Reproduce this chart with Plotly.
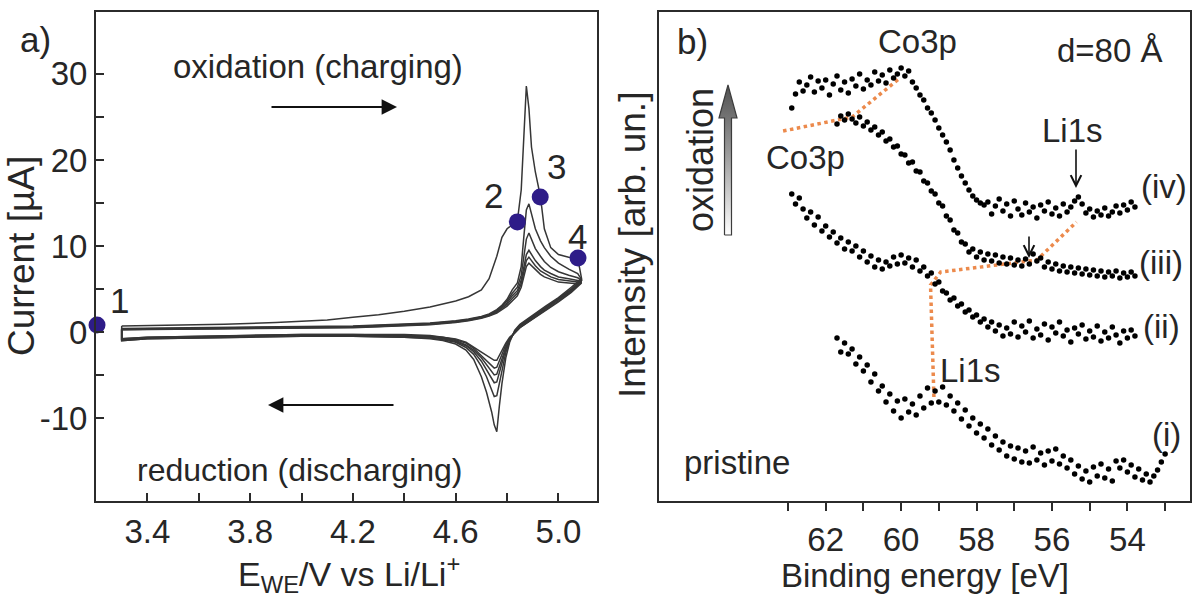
import plotly.graph_objects as go

# ---------------- Panel a: cyclic voltammetry ----------------
EA = [3.30, 3.50, 3.70, 3.90, 4.10, 4.20, 4.30, 4.40, 4.50, 4.60, 4.65, 4.70, 4.73, 4.76, 4.78,
      4.80, 4.82, 4.84, 4.855, 4.865, 4.875, 4.885, 4.895, 4.91, 4.93, 4.945, 4.97, 5.00, 5.04, 5.075]
EC = [5.09, 5.05, 5.00, 4.95, 4.90, 4.87, 4.85, 4.83, 4.81, 4.795, 4.78, 4.77, 4.76, 4.75, 4.74,
      4.72, 4.70, 4.67, 4.64, 4.60, 4.55, 4.50, 4.40, 4.20, 4.00, 3.80, 3.60, 3.40, 3.30]

anodic_1 = [0.7, 0.8, 0.9, 1.1, 1.4, 1.7, 2.0, 2.4, 2.9, 3.6, 4.1, 4.9, 6.2, 8.8, 11.0,
            12.0, 12.4, 12.9, 16.5, 23.0, 28.6, 26.0, 21.5, 18.6, 15.7, 12.0, 9.8, 9.0, 8.7, 8.6]
anodic_2 = [0.4, 0.45, 0.5, 0.55, 0.65, 0.7, 0.8, 0.9, 1.05, 1.3, 1.5, 1.8, 2.1, 2.6, 3.1,
            3.8, 4.9, 5.7, 7.6, 11.0, 14.2, 14.9, 13.6, 12.0, 10.6, 9.8, 8.8, 8.0, 7.3, 6.8]
anodic_3 = [0.35, 0.4, 0.45, 0.5, 0.6, 0.65, 0.75, 0.85, 1.0, 1.25, 1.45, 1.75, 2.0, 2.5, 3.0,
            3.6, 4.5, 5.2, 6.6, 8.8, 10.8, 11.5, 10.8, 9.7, 8.8, 8.2, 7.5, 7.0, 6.6, 6.3]
anodic_4 = [0.3, 0.35, 0.4, 0.45, 0.55, 0.6, 0.7, 0.8, 0.95, 1.2, 1.4, 1.7, 1.95, 2.4, 2.9,
            3.4, 4.2, 4.8, 6.0, 7.6, 9.0, 9.5, 9.0, 8.3, 7.6, 7.2, 6.8, 6.4, 6.2, 6.0]
anodic_5 = [0.3, 0.35, 0.4, 0.45, 0.5, 0.55, 0.65, 0.75, 0.9, 1.15, 1.35, 1.65, 1.9, 2.3, 2.8,
            3.2, 3.9, 4.5, 5.6, 7.0, 8.3, 8.7, 8.3, 7.7, 7.1, 6.8, 6.4, 6.1, 5.9, 5.8]
anodic_6 = [0.25, 0.3, 0.35, 0.4, 0.45, 0.5, 0.6, 0.7, 0.85, 1.1, 1.3, 1.6, 1.85, 2.2, 2.6,
            3.0, 3.6, 4.2, 5.2, 6.5, 7.6, 8.0, 7.7, 7.2, 6.7, 6.4, 6.1, 5.8, 5.7, 5.6]

cathodic_1 = [6.2, 5.2, 4.0, 3.0, 2.0, 1.4, 0.9, 0.2, -1.2, -3.0, -6.0, -8.6, -11.6, -10.8, -9.3,
              -7.0, -5.2, -3.2, -2.1, -1.4, -1.0, -0.8, -0.6, -0.5, -0.5, -0.6, -0.7, -0.8, -1.0]
cathodic_2 = [6.1, 5.0, 3.9, 2.9, 1.9, 1.3, 0.8, 0.1, -1.0, -2.4, -4.4, -6.0, -7.4, -7.5, -6.7,
              -5.2, -4.0, -2.6, -1.8, -1.2, -0.9, -0.7, -0.6, -0.5, -0.5, -0.6, -0.7, -0.8, -1.0]
cathodic_3 = [6.0, 4.9, 3.8, 2.8, 1.8, 1.2, 0.7, 0.0, -0.9, -2.0, -3.6, -4.8, -5.8, -5.9, -5.4,
              -4.3, -3.4, -2.3, -1.6, -1.1, -0.8, -0.6, -0.5, -0.4, -0.4, -0.5, -0.6, -0.7, -0.9]
cathodic_4 = [5.9, 4.8, 3.7, 2.7, 1.7, 1.1, 0.6, -0.1, -0.8, -1.8, -3.1, -4.1, -4.9, -5.0, -4.6,
              -3.8, -3.0, -2.1, -1.5, -1.0, -0.7, -0.5, -0.4, -0.4, -0.4, -0.5, -0.6, -0.7, -0.9]
cathodic_5 = [5.8, 4.7, 3.6, 2.6, 1.6, 1.0, 0.5, -0.1, -0.7, -1.5, -2.6, -3.5, -4.1, -4.2, -3.9,
              -3.3, -2.7, -1.9, -1.3, -0.9, -0.6, -0.5, -0.4, -0.3, -0.3, -0.4, -0.5, -0.6, -0.8]
cathodic_6 = [5.7, 4.6, 3.5, 2.5, 1.5, 0.9, 0.5, -0.1, -0.6, -1.3, -2.1, -2.8, -3.3, -3.3, -3.1,
              -2.7, -2.3, -1.7, -1.2, -0.8, -0.6, -0.4, -0.3, -0.3, -0.3, -0.4, -0.5, -0.6, -0.8]

point_labels = ["1", "2", "3", "4"]
point_E = [3.204, 4.840, 4.929, 5.076]
point_I = [0.8, 12.8, 15.7, 8.6]

ax_a_ticks = [3.4, 3.8, 4.2, 4.6, 5.0]
ax_a_ticktext = ["3.4", "3.8", "4.2", "4.6", "5.0"]
ax_a_minor = [3.6, 4.0, 4.4, 4.8]
ay_a_ticks = [-10, 0, 10, 20, 30]
ay_a_minor = [-5, 5, 15, 25]

# ---------------- Panel b: XPS spectra ----------------
BE_A = [62.9, 62.8, 62.7, 62.6, 62.5, 62.4, 62.3, 62.2, 62.1, 62.0,
        61.9, 61.8, 61.7, 61.6, 61.5, 61.4, 61.3, 61.2, 61.1, 61.0,
        60.9, 60.8, 60.7, 60.6, 60.5, 60.4, 60.3, 60.2, 60.1, 60.0,
        59.9, 59.8, 59.7, 59.6, 59.5, 59.4, 59.3, 59.2, 59.1, 59.0,
        58.9, 58.8, 58.7, 58.6, 58.5, 58.4, 58.3, 58.2, 58.1, 58.0,
        57.9, 57.8, 57.7, 57.6, 57.5, 57.4, 57.3, 57.2, 57.1, 57.0,
        56.9, 56.8, 56.7, 56.6, 56.5, 56.4, 56.3, 56.2, 56.1, 56.0,
        55.9, 55.8, 55.7, 55.6, 55.5, 55.4, 55.3, 55.2, 55.1, 55.0,
        54.9, 54.8, 54.7, 54.6, 54.5, 54.4, 54.3, 54.2, 54.1, 54.0,
        53.9, 53.8]
BE_B = BE_A[12:]
BE_C = BE_A[12:] + [53.7, 53.6, 53.5, 53.4, 53.3, 53.2, 53.1, 53.0]

spec_iv = [39.2, 40.6, 41.8, 40.9, 41.5, 42.3, 40.8, 41.9, 41.2, 42.0,
           40.5, 41.6, 42.4, 41.0, 41.8, 40.7, 42.1, 41.4, 42.6, 41.1,
           42.0, 41.5, 42.8, 41.9, 42.5, 41.7, 43.0, 42.2, 42.6, 43.2,
           42.4, 42.9, 41.8, 41.2, 40.5, 40.0, 39.2, 38.7, 38.0, 37.2,
           36.5, 35.8, 35.0, 34.0, 33.2, 32.4, 31.7, 31.0, 30.4, 30.0,
           29.7, 29.5, 29.8, 28.6, 29.4, 30.1, 28.9, 29.6, 28.4, 29.9,
           29.1, 28.5, 29.7, 28.8, 29.3, 28.2, 29.5, 28.9, 29.8, 28.6,
           29.2, 28.4, 29.6, 28.8, 29.3, 29.9, 30.3, 29.6, 28.7, 29.1,
           28.3, 28.9, 28.5, 29.2, 28.4, 28.8, 29.4, 28.7, 29.5, 29.0,
           29.8, 29.3]
spec_iii = [37.6, 38.4, 38.0, 38.6, 38.1, 37.7, 38.3, 37.4, 37.8, 37.0,
            37.3, 36.5, 36.8, 35.9, 36.1, 35.3, 35.4, 34.6, 34.5, 33.7,
            33.8, 32.9, 32.8, 31.9, 31.7, 30.9, 30.6, 29.7, 29.4, 28.4,
            28.0, 27.0, 26.7, 25.8, 25.6, 24.8, 25.1, 24.3, 24.8, 24.0,
            24.6, 23.9, 24.5, 23.7, 24.3, 23.6, 24.2, 23.5, 24.0, 23.4,
            24.1, 23.6, 24.6, 23.9, 24.2, 23.3, 23.8, 23.1, 23.6, 22.9,
            23.4, 22.8, 23.3, 22.7, 23.2, 22.6, 23.1, 22.5, 23.0, 22.4,
            22.9, 22.3, 22.8, 22.4, 22.9, 22.2, 22.7, 22.3, 22.8, 22.4]
spec_ii = [30.6, 29.6, 30.2, 29.1, 28.2, 28.8, 27.5, 28.3, 26.9, 27.4,
           26.3, 26.8, 25.7, 26.2, 25.1, 25.8, 24.9, 25.4, 24.3, 24.9,
           23.8, 24.4, 23.3, 24.0, 23.1, 23.8, 23.4, 24.3, 23.6, 24.5,
           23.7, 24.2, 23.3, 24.0, 22.9, 23.3, 22.4, 22.7, 21.6, 21.8,
           20.9, 20.7, 20.0, 20.2, 19.4, 19.6, 18.8, 19.0, 18.3, 18.5,
           17.8, 18.1, 17.3, 17.8, 16.9, 17.5, 16.4, 17.2, 16.6, 17.8,
           16.3, 17.4, 16.8, 17.9, 16.2, 17.1, 16.5, 17.6, 16.0, 17.3,
           16.7, 17.8, 16.4, 17.0, 15.8, 17.2, 16.6, 17.5, 16.1, 16.9,
           16.3, 17.4, 15.9, 16.8, 16.2, 17.3, 16.5, 15.7, 16.9, 16.2,
           17.0, 16.4]
spec_i = [16.2, 14.8, 15.7, 14.6, 15.1, 13.6, 14.3, 12.9, 13.5, 11.8,
          12.6, 10.9, 11.4, 9.8, 10.6, 8.9, 9.9, 8.2, 10.1, 8.8,
          9.6, 8.5, 10.4, 9.2, 11.2, 9.7, 10.9, 9.8, 11.3, 9.5,
          10.4, 8.9, 9.7, 8.1, 9.0, 7.4, 8.2, 6.7, 7.6, 6.2,
          7.1, 5.5, 6.4, 5.0, 5.8, 4.4, 5.4, 4.1, 5.2, 3.8,
          4.9, 3.7, 5.3, 4.0, 4.7, 3.5, 4.9, 3.9, 5.1, 3.6,
          4.4, 3.2, 4.0, 2.6, 3.4, 2.1, 2.9, 1.8, 3.3, 2.4,
          3.6, 2.2, 3.1, 1.9, 3.9, 3.2, 4.0, 2.8, 3.5, 2.3,
          3.1, 2.0, 2.6, 1.8, 2.4, 3.0, 3.8, 4.6]

# guide lines (orange dotted)
guide1_BE = [63.13, 61.30, 60.03]
guide1_I = [36.9, 38.3, 42.2]
guide2_BE = [59.13, 59.22, 58.95, 56.40, 55.35]
guide2_I = [10.3, 21.5, 22.8, 24.0, 27.8]

bx_ticks = [62, 60, 58, 56, 54]
bx_minor = [63, 61, 59, 57, 55, 53]

# ---------------- figure ----------------
W, H = 1192, 599
FONT = "Liberation Sans, Arial, sans-serif"
TXT = "#262626"
AXC = "#2b2b2b"
FS = 33

def fx(p):
    return p / W

def fy(p):
    return 1 - p / H

fig = go.Figure()

anodic = [anodic_1, anodic_2, anodic_3, anodic_4, anodic_5, anodic_6]
cathodic = [cathodic_1, cathodic_2, cathodic_3, cathodic_4, cathodic_5, cathodic_6]
for a, c in zip(anodic, cathodic):
    fig.add_trace(go.Scatter(x=EA + EC + [EA[0]], y=a + c + [a[0]], mode="lines",
                             line=dict(color="#363636", width=1.5),
                             xaxis="x", yaxis="y", showlegend=False, hoverinfo="skip"))

fig.add_trace(go.Scatter(x=point_E, y=point_I, mode="markers",
                         marker=dict(size=17, color="#2e1c88"), cliponaxis=False,
                         xaxis="x", yaxis="y", showlegend=False))

for gx, gy in [(guide1_BE, guide1_I), (guide2_BE, guide2_I)]:
    fig.add_trace(go.Scatter(x=gx, y=gy, mode="lines",
                             line=dict(color="#ec8a4c", width=3.5, dash="dot"),
                             xaxis="x2", yaxis="y2", showlegend=False, hoverinfo="skip"))

for bx, sy in [(BE_A, spec_iv), (BE_B, spec_iii), (BE_A, spec_ii), (BE_C, spec_i)]:
    fig.add_trace(go.Scatter(x=bx, y=sy, mode="markers",
                             marker=dict(size=5.5, color="#000000"),
                             xaxis="x2", yaxis="y2", showlegend=False))

# gradient block arrow (decoration, overlay pixel axes)
arrow_x = [724.5, 731.5, 731.5, 737, 728, 719, 724.5, 724.5]
arrow_y = [235, 235, 118, 118, 85, 118, 118, 235]
fig.add_trace(go.Scatter(x=arrow_x, y=[H - v for v in arrow_y], mode="lines", fill="toself",
                         fillgradient=dict(type="vertical",
                                           colorscale=[[0, "#ffffff"], [0.55, "#9a9a9a"], [1, "#505050"]]),
                         line=dict(color="#3c3c3c", width=1.2),
                         xaxis="x3", yaxis="y3", showlegend=False, hoverinfo="skip"))

dom_y = [fy(501), fy(12)]
axis_common = dict(showgrid=False, zeroline=False, showline=True, mirror=True,
                   linecolor=AXC, linewidth=2, tickcolor=AXC, tickwidth=2,
                   tickfont=dict(family=FONT, size=FS, color=TXT))

fig.update_layout(
    width=W, height=H, margin=dict(l=0, r=0, t=0, b=0),
    paper_bgcolor="white", plot_bgcolor="rgba(0,0,0,0)",
    xaxis=dict(domain=[fx(96), fx(597)], range=[3.2, 5.15], anchor="y",
               tickmode="array", tickvals=ax_a_ticks, ticktext=ax_a_ticktext,
               ticks="inside", ticklen=8,
               minor=dict(tickmode="array", tickvals=ax_a_minor, ticks="inside", ticklen=8,
                          tickwidth=2, tickcolor=AXC),
               **axis_common),
    yaxis=dict(domain=dom_y, range=[-19.65, 37.2], anchor="x",
               tickmode="array", tickvals=ay_a_ticks, ticktext=[str(v) for v in ay_a_ticks],
               ticks="inside", ticklen=8,
               minor=dict(tickmode="array", tickvals=ay_a_minor, ticks="inside", ticklen=8,
                          tickwidth=2, tickcolor=AXC),
               **axis_common),
    xaxis2=dict(domain=[fx(659), fx(1190)], range=[66.42, 52.34], anchor="y2",
                tickmode="array", tickvals=bx_ticks, ticktext=[str(v) for v in bx_ticks],
                ticks="outside", ticklen=8,
                minor=dict(tickmode="array", tickvals=bx_minor, ticks="outside", ticklen=8,
                           tickwidth=2, tickcolor=AXC),
                **axis_common),
    yaxis2=dict(domain=dom_y, range=[-0.1, 48.8], anchor="x2", showticklabels=False,
                ticks="", showgrid=False, zeroline=False, showline=True, mirror=True,
                linecolor=AXC, linewidth=2),
    xaxis3=dict(domain=[0, 1], range=[0, W], visible=False, anchor="y3", fixedrange=True),
    yaxis3=dict(domain=[0, 1], range=[0, H], visible=False, anchor="x3", fixedrange=True),
)

ann = []

def text(s, x, y, size=FS, angle=0, xanchor="center"):
    ann.append(dict(text=s, x=fx(x), y=fy(y), xref="paper", yref="paper", showarrow=False,
                    xanchor=xanchor, yanchor="middle", textangle=angle,
                    font=dict(family=FONT, size=size, color=TXT)))

# panel a texts
text("a)", 35, 40, 35)
text("oxidation (charging)", 318, 66, 33)
text("reduction (discharging)", 300, 470, 32)
text("Current [µA]", 21, 256, 37, angle=-90)
text("E<sub>WE</sub>/V vs Li/Li<sup>+</sup>", 349, 574, 34)
for lab, (lx, ly) in zip(point_labels, [(120, 300), (493, 195), (556, 166), (577, 236)]):
    text(lab, lx, ly, 35)

# panel b texts
text("b)", 692, 42, 35)
text("Co3p", 917, 42)
text("d=80 Å", 1110, 50)
text("oxidation", 700, 160, 36, angle=-90)
text("Li1s", 1072, 130)
text("Co3p", 805, 157)
text("(iv)", 1164, 186)
text("(iii)", 1161, 262)
text("(ii)", 1161, 326)
text("(i)", 1166, 434)
text("Li1s", 970, 370)
text("pristine", 737, 462)
text("Internsity [arb. un.]", 633, 245, 37, angle=-90)
text("Binding energy [eV]", 925, 575, 33)

def arrow(x0, y0, x1, y1, head, size, width):
    ann.append(dict(x=x1, y=H - y1, ax=x0, ay=H - y0, xref="x3", yref="y3",
                    axref="x3", ayref="y3", showarrow=True, arrowhead=head,
                    arrowsize=size, arrowwidth=width, arrowcolor="#111111", text=""))

arrow(270, 107, 397, 107, 2, 1.4, 2.2)
arrow(395, 405, 268, 405, 2, 1.4, 2.2)
arrow(1076, 148, 1076, 188, 5, 1.3, 1.6)
arrow(1029, 235, 1029, 258, 5, 1.3, 1.6)

fig.update_layout(annotations=ann)
fig.write_html("out.html")
